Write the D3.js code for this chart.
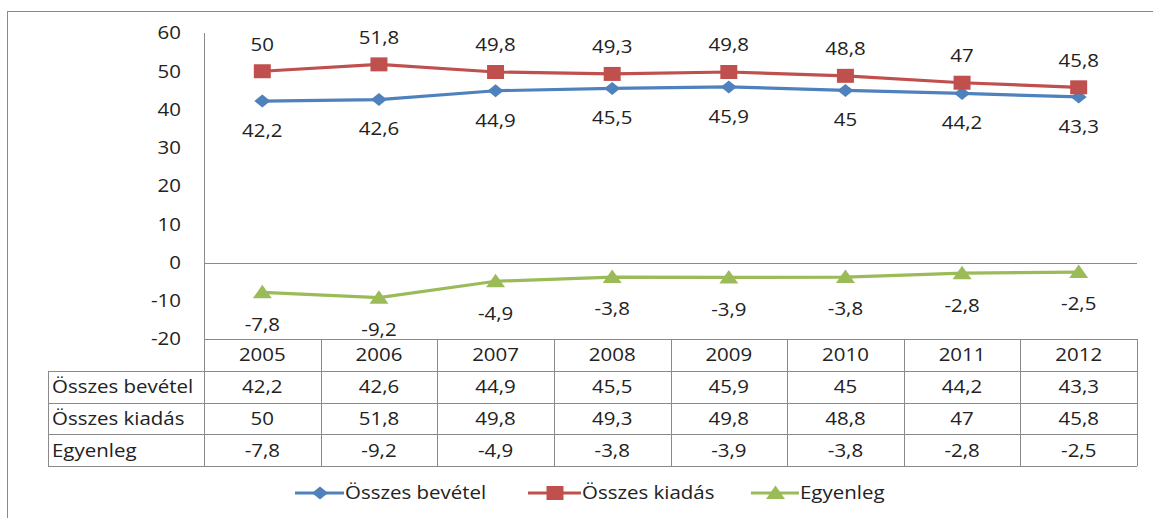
<!DOCTYPE html>
<html>
<head>
<meta charset="utf-8">
<script src="https://cdn.jsdelivr.net/npm/d3@7"></script>
<style>
  body { margin: 0; background: #fff; }
  svg text { font-family: "Open Sans", sans-serif; fill: #222; }
</style>
</head>
<body>
<div id="chart"></div>
<script>
// years and series values
var years = ["2005", "2006", "2007", "2008", "2009", "2010", "2011", "2012"];
var bevetel = [42.2, 42.6, 44.9, 45.5, 45.9, 45, 44.2, 43.3];
var kiadas = [50, 51.8, 49.8, 49.3, 49.8, 48.8, 47, 45.8];
var egyenleg = [-7.8, -9.2, -4.9, -3.8, -3.9, -3.8, -2.8, -2.5];
var seriesNames = ["Összes bevétel", "Összes kiadás", "Egyenleg"];
var yTicks = [-20, -10, 0, 10, 20, 30, 40, 50, 60];

var svgWidth = 1153;
var svgHeight = 518;

var plot = { left: 204, right: 1137, top: 33, bottom: 339 };
var rowH = 31.8;
var labelLeft = 48;

var colors = ["#4F81BD", "#C0504D", "#9BBB59"];
var series = [bevetel, kiadas, egyenleg];

// the source picture is a bit stretched sideways, so text gets a scaleX
var stretch = 1.17;
var fontSize = 17.5;

var svg = d3.select("#chart").append("svg")
    .attr("width", svgWidth)
    .attr("height", svgHeight);

// helper for stretched text
function addText(parent, x, y, str, anchor, size) {
    return parent.append("text")
        .attr("transform", `translate(${x}, ${y}) scale(${stretch}, 1)`)
        .attr("dy", "0.36em")
        .attr("text-anchor", anchor || "middle")
        .attr("font-size", (size || fontSize) + "px")
        .text(str);
}

// marker shapes (wider than tall, like the picture)
function markerPath(i) {
    var p = d3.path();
    if (i === 0) {
        p.moveTo(-8, 0); p.lineTo(0, -6.5); p.lineTo(8, 0); p.lineTo(0, 6.5);
    } else if (i === 1) {
        p.rect(-8.5, -7, 17, 14);
    } else {
        p.moveTo(-9.5, 6); p.lineTo(0, -7.5); p.lineTo(9.5, 6);
    }
    p.closePath();
    return p.toString();
}

// outer chart border
svg.append("rect")
    .attr("x", 7.5).attr("y", 11.5)
    .attr("width", 1160).attr("height", 520)
    .attr("fill", "none").attr("stroke", "#8a8a8a").attr("stroke-width", 1);

var x = d3.scaleBand().domain(years).range([plot.left, plot.right]);
var y = d3.scaleLinear().domain([-20, 60]).range([plot.bottom, plot.top]);

var fmt = function(v) { return String(v).replace(".", ","); };
var cx = function(i) { return x(years[i]) + x.bandwidth() / 2; };

// y axis labels
var yg = svg.append("g");
yTicks.forEach(function(t) {
    addText(yg, 181, y(t), t, "end");
});

// zero line
svg.append("line")
    .attr("x1", plot.left).attr("x2", plot.right)
    .attr("y1", Math.round(y(0)) + 0.5).attr("y2", Math.round(y(0)) + 0.5)
    .attr("stroke", "#8a8a8a");

// table grid
var tableBottom = plot.bottom + rowH * 4;
var grid = svg.append("g").attr("stroke", "#8a8a8a").attr("stroke-width", 1);
grid.append("line")
    .attr("x1", plot.left + 0.5).attr("x2", plot.left + 0.5)
    .attr("y1", plot.top).attr("y2", tableBottom);
years.forEach(function(yr) {
    var lx = Math.round(x(yr) + x.bandwidth()) + 0.5;
    grid.append("line")
        .attr("x1", lx).attr("x2", lx)
        .attr("y1", plot.bottom).attr("y2", tableBottom);
});
for (var r = 0; r <= 4; r++) {
    var ry = Math.round(plot.bottom + r * rowH) + 0.5;
    grid.append("line")
        .attr("x1", r === 0 ? plot.left : labelLeft).attr("x2", plot.right)
        .attr("y1", ry).attr("y2", ry);
}
grid.append("line")
    .attr("x1", labelLeft + 0.5).attr("x2", labelLeft + 0.5)
    .attr("y1", plot.bottom + rowH).attr("y2", tableBottom);

// table text
var table = svg.append("g");
years.forEach(function(yr, j) {
    addText(table, cx(j), plot.bottom + rowH / 2, yr);
});
series.forEach(function(s, i) {
    var cy = plot.bottom + rowH * (i + 1) + rowH / 2;
    addText(table, labelLeft + 4, cy, seriesNames[i], "start");
    s.forEach(function(v, j) {
        addText(table, cx(j), cy, fmt(v));
    });
});

// lines
var line = d3.line()
    .x((d, i) => cx(i))
    .y(d => y(d));

series.forEach(function(s, i) {
    svg.append("path")
        .datum(s)
        .attr("fill", "none")
        .attr("stroke", colors[i])
        .attr("stroke-width", 3.2)
        .attr("d", line);
});

// markers
series.forEach(function(s, i) {
    svg.append("g").selectAll("path")
        .data(s)
        .enter()
        .append("path")
        .attr("transform", (d, j) => `translate(${cx(j)}, ${y(d)})`)
        .attr("d", markerPath(i))
        .attr("fill", colors[i]);
});

// data labels: kiadas above, others below
var labelOffset = [29.5, -27, 32];
var labels = svg.append("g");
series.forEach(function(s, i) {
    s.forEach(function(v, j) {
        addText(labels, cx(j), y(v) + labelOffset[i], fmt(v));
    });
});

// legend
var legendItems = [
    { x: 295, textX: 345 },
    { x: 528, textX: 582 },
    { x: 751, textX: 800 }
];
var legendY = 493;
legendItems.forEach(function(it, i) {
    var g = svg.append("g");
    g.append("line")
        .attr("x1", it.x).attr("x2", it.textX - 1)
        .attr("y1", legendY).attr("y2", legendY)
        .attr("stroke", colors[i]).attr("stroke-width", 3);
    g.append("path")
        .attr("transform", `translate(${(it.x + it.textX) / 2}, ${legendY})`)
        .attr("d", markerPath(i))
        .attr("fill", colors[i]);
    addText(g, it.textX, legendY, seriesNames[i], "start");
});
</script>
</body>
</html>
